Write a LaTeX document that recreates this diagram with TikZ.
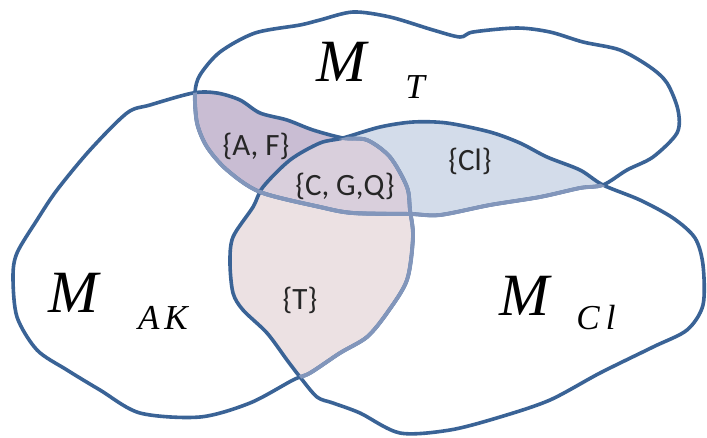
\documentclass[tikz,border=0pt]{standalone}
\usepackage{fontspec}
\setmainfont{Liberation Serif}
\newfontfamily\setfont{Carlito}
\usetikzlibrary{positioning}

\definecolor{rim}{HTML}{3A6396}
\definecolor{rimsoft}{HTML}{8296BB}
\definecolor{fillAF}{HTML}{C9BDD3}
\definecolor{fillCGQ}{HTML}{D9CFDC}
\definecolor{fillCl}{HTML}{D3DCEA}
\definecolor{fillT}{HTML}{ECE1E3}

% outlines of the three sets, in pixel units
\newcommand{\regionT}{plot[smooth cycle] coordinates {
  (195,93) (200,75) (220,52) (255,33) (300,25) (320,20) (353,12) (390,17)
  (433,30) (460,37) (473,32) (517,28) (550,32) (583,42) (620,50) (650,67)
  (667,83) (678,110) (677,133) (653,157) (627,170) (603,185) (580,188)
  (540,197) (490,205) (440,215) (410,214) (353,213) (320,207) (260,192)
  (227,170) (207,147) (197,123)}}
\newcommand{\regionAK}{plot[smooth cycle] coordinates {
  (343,138) (313,130) (287,120) (260,113) (240,100) (217,93) (193,93)
  (150,105) (127,113) (90,150) (57,190) (37,220) (17,253) (13,277) (17,317)
  (37,350) (67,370) (100,390) (140,413) (200,417) (250,403) (293,380)
  (310,373) (340,353) (367,337) (387,313) (407,280) (413,237) (410,210)
  (407,187) (390,157) (367,140)}}
\newcommand{\regionCl}{plot[smooth cycle] coordinates {
  (343,138) (380,127) (413,122) (447,123) (490,132) (520,143) (547,157)
  (580,170) (603,185) (640,200) (673,218) (695,238) (703,265) (703,305)
  (687,330) (653,347) (600,373) (550,400) (500,417) (450,430) (400,433)
  (360,413) (333,403) (317,397) (300,377) (287,360) (267,333) (243,310)
  (233,293) (230,263) (233,237) (253,207) (263,187) (290,160) (320,143)}}

\begin{document}
\begin{tikzpicture}[
    x=1pt, y=-1pt,
    rimline/.style={draw=rim, line width=3.6pt, line join=round},
    softline/.style={draw=rimsoft, line width=3.9pt, line join=round},
    bigM/.style={inner sep=0pt, font=\fontsize{60}{62}\selectfont\itshape},
    subM/.style={inner sep=0pt, font=\fontsize{35}{37}\selectfont\itshape},
    setlabel/.style={inner sep=0pt, font=\fontsize{31}{33}\selectfont\setfont, text=black!85}
]
\useasboundingbox (0,0) rectangle (707,437);

% overlaps
\begin{scope}
  \clip \regionT;
  \fill[fillAF] \regionAK;
\end{scope}
\begin{scope}
  \clip \regionT;
  \fill[fillCl] \regionCl;
\end{scope}
\begin{scope}
  \clip \regionAK;
  \fill[fillT] \regionCl;
\end{scope}
\begin{scope}
  \clip \regionT;
  \clip \regionAK;
  \fill[fillCGQ] \regionCl;
\end{scope}

% outlines
\draw[rimline] \regionT;
\draw[rimline] \regionAK;
\draw[rimline] \regionCl;

% lines seen through the shading
\begin{scope}
  \clip \regionAK;
  \path[softline] \regionT;
\end{scope}
\begin{scope}
  \clip \regionCl;
  \path[softline] \regionT;
  \path[softline] \regionAK;
\end{scope}

% set names
\node[bigM] (mT) at (341,62) {M};
\node[subM] (mTsub) at (415,87) {T};
\node[bigM] (mAK) at (73,293) {M};
\node[subM] (mAKsub) at (163,318) {A\hspace{5pt}K};
\node[bigM] (mCl) at (524,296) {M};
\node[subM] (mClsub) at (596,318) {C\hspace{6pt}l};

% elements
\node[setlabel] (af) at (256,146) {\{A, F\}};
\node[setlabel] (cgq) at (345,186) {\{C, G,Q\}};
\node[setlabel] (cl) at (470,161) {\{Cl\}};
\node[setlabel] (t) at (300,300) {\{T\}};
\end{tikzpicture}
\end{document}
